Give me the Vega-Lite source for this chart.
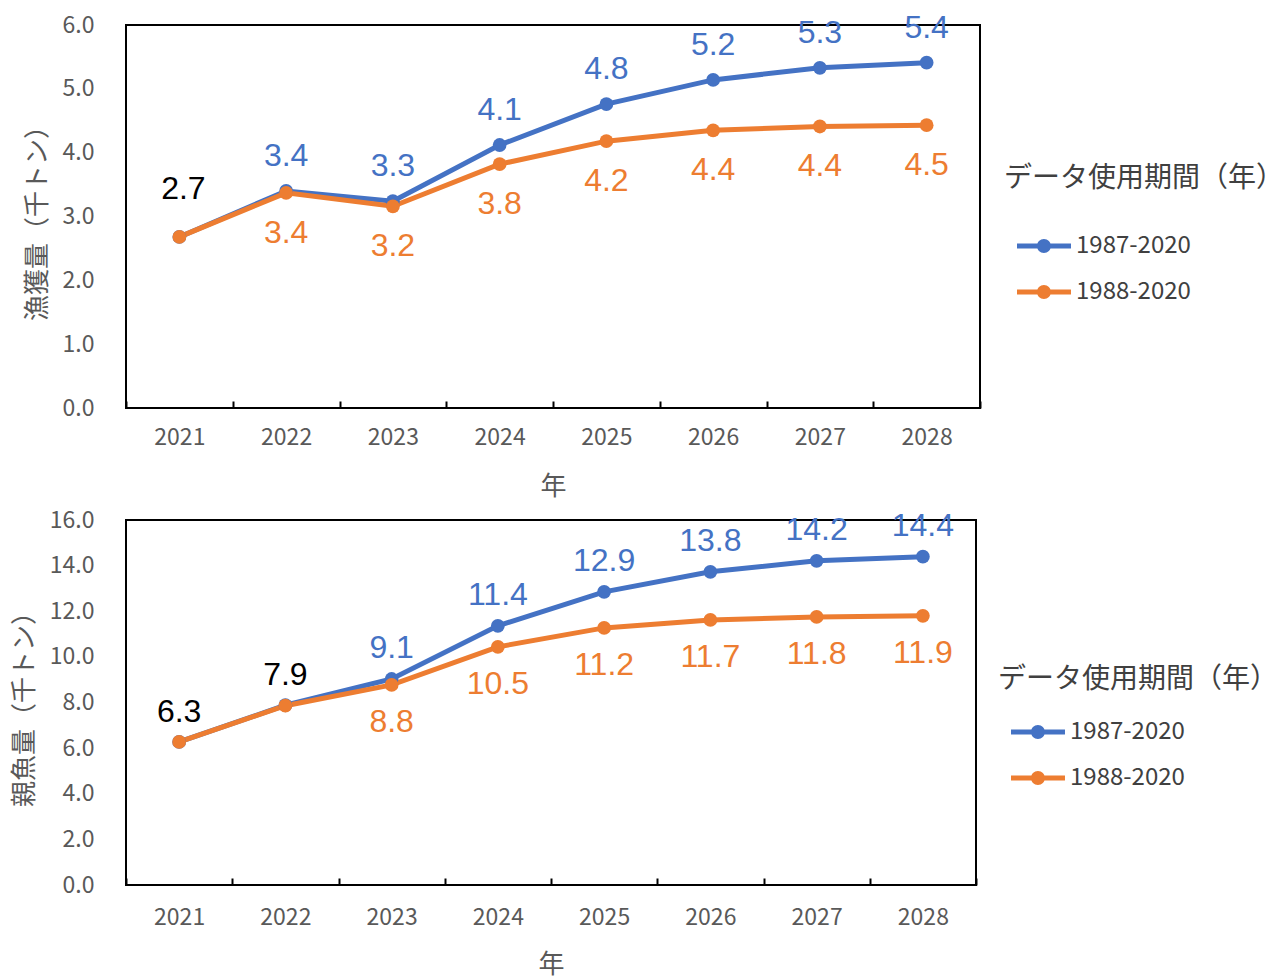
{
  "$schema": "https://vega.github.io/schema/vega-lite/v6.json",
  "padding": {"left": 10, "top": 10, "right": 290, "bottom": 2},
  "spacing": 8,
  "background": "white",
  "datasets": {
    "catch": [
      {"year": "2021", "series": "1987-2020", "value": 2.68, "label": "2.7", "common": true},
      {"year": "2022", "series": "1987-2020", "value": 3.40, "label": "3.4", "common": false},
      {"year": "2023", "series": "1987-2020", "value": 3.24, "label": "3.3", "common": false},
      {"year": "2024", "series": "1987-2020", "value": 4.12, "label": "4.1", "common": false},
      {"year": "2025", "series": "1987-2020", "value": 4.76, "label": "4.8", "common": false},
      {"year": "2026", "series": "1987-2020", "value": 5.14, "label": "5.2", "common": false},
      {"year": "2027", "series": "1987-2020", "value": 5.33, "label": "5.3", "common": false},
      {"year": "2028", "series": "1987-2020", "value": 5.41, "label": "5.4", "common": false},
      {"year": "2021", "series": "1988-2020", "value": 2.68, "label": "2.7", "common": true},
      {"year": "2022", "series": "1988-2020", "value": 3.37, "label": "3.4", "common": false},
      {"year": "2023", "series": "1988-2020", "value": 3.16, "label": "3.2", "common": false},
      {"year": "2024", "series": "1988-2020", "value": 3.82, "label": "3.8", "common": false},
      {"year": "2025", "series": "1988-2020", "value": 4.18, "label": "4.2", "common": false},
      {"year": "2026", "series": "1988-2020", "value": 4.35, "label": "4.4", "common": false},
      {"year": "2027", "series": "1988-2020", "value": 4.41, "label": "4.4", "common": false},
      {"year": "2028", "series": "1988-2020", "value": 4.43, "label": "4.5", "common": false}
    ],
    "spawn": [
      {"year": "2021", "series": "1987-2020", "value": 6.27, "label": "6.3", "common": true},
      {"year": "2022", "series": "1987-2020", "value": 7.88, "label": "7.9", "common": true},
      {"year": "2023", "series": "1987-2020", "value": 9.03, "label": "9.1", "common": false},
      {"year": "2024", "series": "1987-2020", "value": 11.36, "label": "11.4", "common": false},
      {"year": "2025", "series": "1987-2020", "value": 12.85, "label": "12.9", "common": false},
      {"year": "2026", "series": "1987-2020", "value": 13.73, "label": "13.8", "common": false},
      {"year": "2027", "series": "1987-2020", "value": 14.21, "label": "14.2", "common": false},
      {"year": "2028", "series": "1987-2020", "value": 14.39, "label": "14.4", "common": false},
      {"year": "2021", "series": "1988-2020", "value": 6.27, "label": "6.3", "common": true},
      {"year": "2022", "series": "1988-2020", "value": 7.86, "label": "7.9", "common": true},
      {"year": "2023", "series": "1988-2020", "value": 8.77, "label": "8.8", "common": false},
      {"year": "2024", "series": "1988-2020", "value": 10.44, "label": "10.5", "common": false},
      {"year": "2025", "series": "1988-2020", "value": 11.27, "label": "11.2", "common": false},
      {"year": "2026", "series": "1988-2020", "value": 11.62, "label": "11.7", "common": false},
      {"year": "2027", "series": "1988-2020", "value": 11.75, "label": "11.8", "common": false},
      {"year": "2028", "series": "1988-2020", "value": 11.80, "label": "11.9", "common": false}
    ]
  },
  "vconcat": [
    {
      "width": 854,
      "height": 383,
      "data": {"name": "catch"},
      "encoding": {
        "x": {"field": "year", "type": "ordinal", "bandPosition": 0.5,
              "scale": {"type": "band", "paddingInner": 0, "paddingOuter": 0},
              "axis": {"title": "年", "labelAngle": 0, "tickBand": "extent", "tickSize": -7, "tickColor": "black", "tickWidth": 2, "labelPadding": 25, "titlePadding": 24, "domain": false}},
        "y": {"field": "value", "type": "quantitative",
              "scale": {"domain": [0, 6], "nice": false},
              "axis": {"title": "漁獲量（千トン）", "values": [0, 1, 2, 3, 4, 5, 6], "format": ".1f", "ticks": false, "domain": false, "labelPadding": 32, "titlePadding": 12}},
        "color": {"field": "series", "type": "nominal", "title": "データ使用期間（年）",
                  "scale": {"domain": ["1987-2020", "1988-2020"], "range": ["#4472C4", "#ED7D31"]},
                  "legend": {"orient": "none", "legendX": 878, "legendY": 140, "titlePadding": 36}}
      },
      "layer": [
        {"mark": {"type": "line", "strokeWidth": 5}},
        {"mark": {"type": "point", "filled": true, "size": 190, "opacity": 1}},
        {"transform": [{"filter": "datum.series == '1987-2020' && !datum.common"}],
         "mark": {"type": "text", "font": "Liberation Sans", "fontSize": 32, "dy": -35},
         "encoding": {"text": {"field": "label"}, "color": {"value": "#4472C4"}}},
        {"transform": [{"filter": "datum.series == '1988-2020' && !datum.common"}],
         "mark": {"type": "text", "font": "Liberation Sans", "fontSize": 32, "dy": 40},
         "encoding": {"text": {"field": "label"}, "color": {"value": "#ED7D31"}}},
        {"transform": [{"filter": "datum.series == '1987-2020' && datum.common"}],
         "mark": {"type": "text", "font": "Liberation Sans", "fontSize": 32, "dy": -48, "dx": 4},
         "encoding": {"text": {"field": "label"}, "color": {"value": "black"}}}
      ]
    },
    {
      "width": 850,
      "height": 365,
      "data": {"name": "spawn"},
      "encoding": {
        "x": {"field": "year", "type": "ordinal", "bandPosition": 0.5,
              "scale": {"type": "band", "paddingInner": 0, "paddingOuter": 0},
              "axis": {"title": "年", "labelAngle": 0, "tickBand": "extent", "tickSize": -7, "tickColor": "black", "tickWidth": 2, "labelPadding": 28, "titlePadding": 22, "domain": false}},
        "y": {"field": "value", "type": "quantitative",
              "scale": {"domain": [0, 16], "nice": false},
              "axis": {"title": "親魚量（千トン）", "values": [0, 2, 4, 6, 8, 10, 12, 14, 16], "format": ".1f", "ticks": false, "domain": false, "labelPadding": 32, "titlePadding": 12}},
        "color": {"field": "series", "type": "nominal", "title": "データ使用期間（年）",
                  "scale": {"domain": ["1987-2020", "1988-2020"], "range": ["#4472C4", "#ED7D31"]},
                  "legend": {"orient": "none", "legendX": 872, "legendY": 146, "titlePadding": 21}}
      },
      "layer": [
        {"mark": {"type": "line", "strokeWidth": 5}},
        {"mark": {"type": "point", "filled": true, "size": 190, "opacity": 1}},
        {"transform": [{"filter": "datum.series == '1987-2020' && !datum.common"}],
         "mark": {"type": "text", "font": "Liberation Sans", "fontSize": 32, "dy": -31},
         "encoding": {"text": {"field": "label"}, "color": {"value": "#4472C4"}}},
        {"transform": [{"filter": "datum.series == '1988-2020' && !datum.common"}],
         "mark": {"type": "text", "font": "Liberation Sans", "fontSize": 32, "dy": 37},
         "encoding": {"text": {"field": "label"}, "color": {"value": "#ED7D31"}}},
        {"transform": [{"filter": "datum.series == '1987-2020' && datum.common"}],
         "mark": {"type": "text", "font": "Liberation Sans", "fontSize": 32, "dy": -30},
         "encoding": {"text": {"field": "label"}, "color": {"value": "black"}}}
      ]
    }
  ],
  "resolve": {"scale": {"color": "independent"}, "legend": {"color": "independent"}},
  "config": {
    "view": {"stroke": "black", "strokeWidth": 2},
    "axis": {"labelFont": "Noto Sans CJK JP", "labelFontSize": 23, "labelColor": "#595959",
             "titleFont": "Noto Sans CJK JP", "titleFontSize": 26, "titleColor": "#595959", "titleFontWeight": "normal", "grid": false},
    "legend": {"titleFont": "Noto Sans CJK JP", "titleFontSize": 28, "titleFontWeight": "normal", "titleColor": "#404040", "titleLimit": 400,
               "labelFont": "Noto Sans CJK JP", "labelFontSize": 24, "labelColor": "#404040", "labelLimit": 300,
               "symbolType": "M-0.235,-0.147H2.94V0.147H-0.235Z M0.94,0A0.41,0.41,0,1,1,1.76,0A0.41,0.41,0,1,1,0.94,0Z",
               "symbolSize": 1156, "symbolStrokeWidth": 0, "labelOffset": 38, "rowPadding": 17}
  }
}
